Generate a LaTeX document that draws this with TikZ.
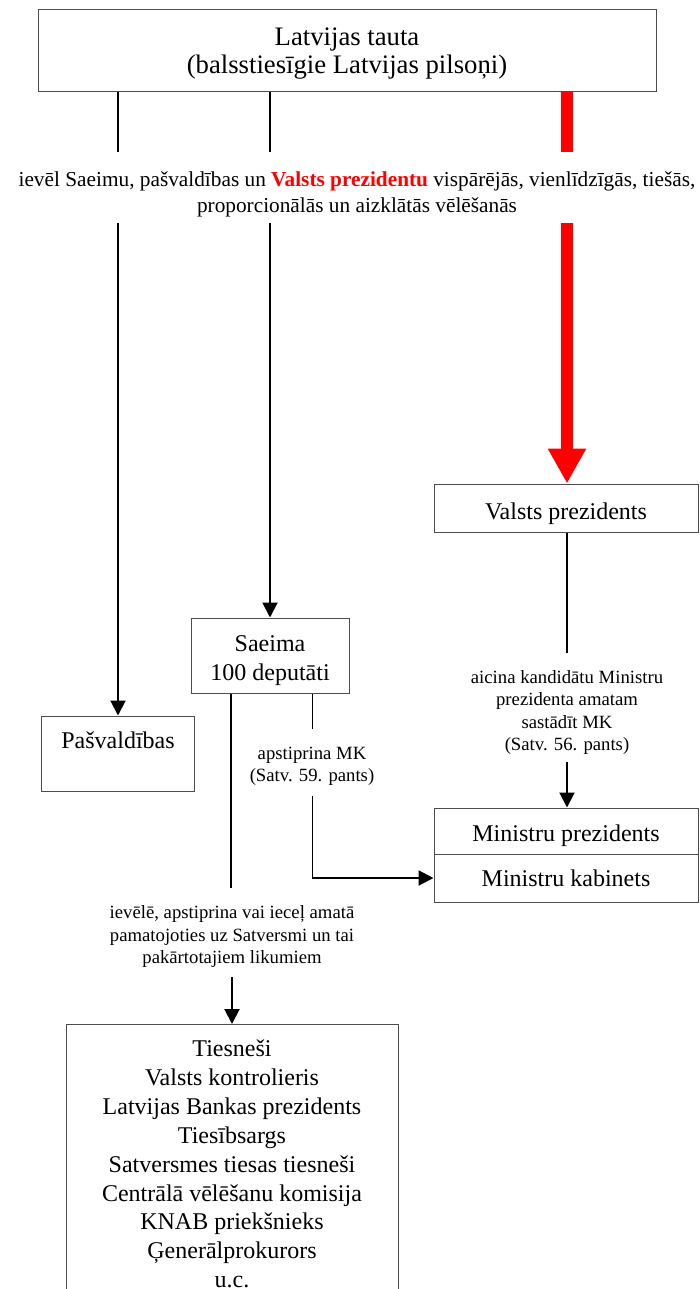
\documentclass[tikz,border=0pt]{standalone}
\usepackage{fontspec}
\setmainfont{Liberation Serif}
\usetikzlibrary{arrows.meta}
\definecolor{bordergray}{gray}{0.3}
\newcommand\tstr[1]{\rule{0pt}{#1pt}}
\newcommand\bstr[1]{\rule[-#1pt]{0pt}{0pt}}
\begin{document}
\begin{tikzpicture}[x=1pt,y=-1pt,
  box/.style={draw=bordergray, line width=1pt, rectangle, inner sep=0pt, align=center, font=\fontsize{24}{29}\selectfont},
  lbl/.style={align=center, inner sep=0pt, font=\fontsize{18.7}{22.2}\selectfont},
  conn/.style={line width=2pt, black},
  thin/.style={line width=1pt, black},
  arr/.style={conn, -{Triangle[length=15pt,width=15pt]}},
  redline/.style={line width=11.6pt, red},
  redarr/.style={redline, -{Triangle[length=35pt,width=36pt]}}]
\clip (0,0) rectangle (699,1289);
\fill[white] (0,0) rectangle (699,1289);

\node[box, minimum width=618pt, minimum height=82.5pt, font=\fontsize{26.7}{28.3}\selectfont] (tauta) at (347,50.5) {\tstr{28}Latvijas tauta\\(balsstiesīgie Latvijas pilsoņi)\bstr{9.3}};
\node[lbl, font=\fontsize{21.3}{26}\selectfont] (elect) at (357,194.5) {ievēl Saeimu, pašvaldības un \textcolor{red}{\textbf{Valsts prezidentu}} vispārējās, vienlīdzīgās, tiešās,\\proporcionālās un aizklātās vēlēšanās};

\node[box, minimum width=153pt, minimum height=75pt] (pasv) at (118,753.5) {\tstr{20}Pašvaldības\bstr{30.4}};
\node[box, minimum width=158pt, minimum height=75pt] (saeima) at (270,655.5) {\tstr{28}Saeima\\100 deputāti\bstr{8}};
\node[box, minimum width=264pt, minimum height=48pt] (vp) at (566,508) {\tstr{30}Valsts prezidents\bstr{8}};
\node[box, minimum width=264pt, minimum height=46pt] (mp) at (566,831) {\tstr{28}Ministru prezidents\bstr{8}};
\node[box, minimum width=264pt, minimum height=48pt] (mk) at (566,878) {\tstr{25.4}Ministru kabinets\bstr{8}};

\node[lbl] (invite) at (567,712.5) {aicina kandidātu Ministru\\prezidenta amatam\\sastādīt MK\\(Satv. 56. pants)};
\node[lbl] (approve) at (312,766.5) {apstiprina MK\\(Satv. 59. pants)};
\node[lbl] (appoint) at (232,936.5) {ievēlē, apstiprina vai ieceļ amatā\\pamatojoties uz Satversmi un tai\\pakārtotajiem likumiem};

\node[box, minimum width=332pt, minimum height=280pt, anchor=north, font=\fontsize{24}{28.9}\selectfont] (officials) at (232,1024) {\tstr{25}Tiesneši\\Valsts kontrolieris\\Latvijas Bankas prezidents\\Tiesībsargs\\Satversmes tiesas tiesneši\\Centrālā vēlēšanu komisija\\KNAB priekšnieks\\Ģenerālprokurors\\u.c.\bstr{9.8}};

\coordinate (l1) at (118,152);
\coordinate (l2) at (118,223);
\coordinate (m1) at (270,152);
\coordinate (m2) at (270,223);
\coordinate (r1) at (567,152);
\coordinate (r2) at (567,223);
\coordinate (v1) at (567,653);
\coordinate (v2) at (567,762);
\coordinate (s1) at (231,888);
\coordinate (a1) at (232,977);
\coordinate (t1) at (312,729);
\coordinate (t2) at (312,796);
\coordinate (t3) at (312,878);

\draw[conn] (tauta.south -| l1) -- (l1);
\draw[arr] (l2) -- (pasv.north);
\draw[conn] (tauta.south -| m1) -- (m1);
\draw[arr] (m2) -- (saeima.north);
\draw[redline] (tauta.south -| r1) -- (r1);
\draw[redarr] (r2) -- (vp.north -| r2);
\draw[conn] (vp.south -| v1) -- (v1);
\draw[arr] (v2) -- (mp.north -| v2);
\draw[conn] (saeima.south -| s1) -- (s1);
\draw[arr] (a1) -- (officials.north);
\draw[thin] (saeima.south -| t1) -- (t1);
\draw[thin] (t2) -- (t3);
\draw[arr] (t3) -- (mk.west);
\end{tikzpicture}
\end{document}
